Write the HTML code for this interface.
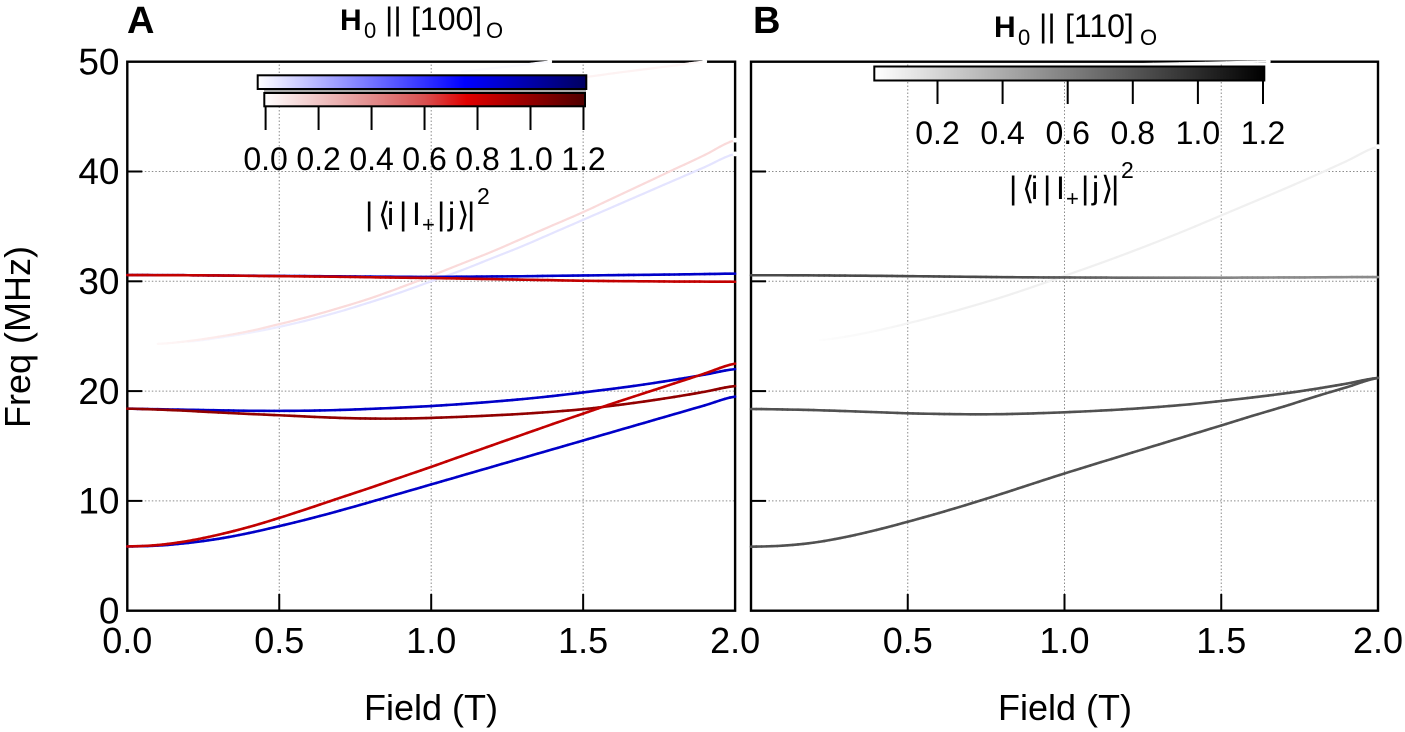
<!DOCTYPE html>
<html lang="en">
<head>
<meta charset="utf-8">
<title>Frequency versus field, panels A and B</title>
<style>
html,body{margin:0;padding:0;background:#fff;width:1405px;height:732px;overflow:hidden}
svg{display:block}
text{font-family:"Liberation Sans",Arial,sans-serif;fill:#000}
</style>
</head>
<body>
<svg id="chart" xmlns="http://www.w3.org/2000/svg" width="1405" height="732" viewBox="0 0 1405 732">
<defs>
<linearGradient id="grad-blue"><stop offset="0" stop-color="#fff"/><stop offset=".63" stop-color="#0000ff"/><stop offset="1" stop-color="#000060"/></linearGradient>
<linearGradient id="grad-red"><stop offset="0" stop-color="#fff"/><stop offset=".33" stop-color="#e28e8e"/><stop offset=".5" stop-color="#d85050"/><stop offset=".63" stop-color="#e00000"/><stop offset="1" stop-color="#500000"/></linearGradient>
<linearGradient id="grad-gray"><stop offset="0" stop-color="#fff"/><stop offset="1" stop-color="#000"/></linearGradient>
</defs>
<g id="layer-grid"></g>
<g id="layer-frame"></g>
<g id="layer-curves"></g>
<g id="layer-bars">
<rect x="264" y="89" width="322" height="4" fill="#a8a8a8"/>
<rect x="257.7" y="75.3" width="328.6" height="13.7" fill="url(#grad-blue)" stroke="#000" stroke-width="2"/>
<rect x="264.3" y="93" width="320.7" height="13.3" fill="url(#grad-red)" stroke="#000" stroke-width="2"/>
<rect x="874.3" y="66.5" width="390" height="14" fill="url(#grad-gray)" stroke="#000" stroke-width="2"/>
</g>
<g id="layer-text">
<text x="127" y="33" font-size="38" font-weight="bold">A</text>
<text x="753" y="33" font-size="38" font-weight="bold">B</text>
<text y="30" font-size="32"><tspan x="340" font-weight="bold" font-size="30">H</tspan><tspan x="364" y="38" font-size="22">0</tspan><tspan x="385" y="30">||</tspan><tspan x="411" y="30">[100]</tspan><tspan x="486" y="38" font-size="22">O</tspan></text>
<text transform="translate(654,7)" y="30" font-size="32"><tspan x="340" font-weight="bold" font-size="30">H</tspan><tspan x="364" y="38" font-size="22">0</tspan><tspan x="385" y="30">||</tspan><tspan x="411" y="30">[110]</tspan><tspan x="486" y="38" font-size="22">O</tspan></text>
<text y="225" font-size="32"><tspan x="365">|</tspan><tspan x="378">⟨</tspan><tspan x="387">i</tspan><tspan x="399">|</tspan><tspan x="412">I</tspan><tspan x="422" y="232" font-size="22">+</tspan><tspan x="437" y="225">|</tspan><tspan x="448">j</tspan><tspan x="457">⟩</tspan><tspan x="467">|</tspan><tspan x="477" y="204" font-size="23">2</tspan></text>
<text transform="translate(644,-26)" y="225" font-size="32"><tspan x="365">|</tspan><tspan x="378">⟨</tspan><tspan x="387">i</tspan><tspan x="399">|</tspan><tspan x="412">I</tspan><tspan x="422" y="232" font-size="22">+</tspan><tspan x="437" y="225">|</tspan><tspan x="448">j</tspan><tspan x="457">⟩</tspan><tspan x="467">|</tspan><tspan x="477" y="204" font-size="23">2</tspan></text>
<text transform="translate(30,337) rotate(-90)" text-anchor="middle" font-size="36">Freq (MHz)</text>
<text x="431" y="720" text-anchor="middle" font-size="36">Field (T)</text>
<text x="1065" y="720" text-anchor="middle" font-size="36">Field (T)</text>
</g>
</svg>
<script>
const yTickValues = [0, 10, 20, 30, 40, 50];
const xTickValues = [0, 0.5, 1, 1.5, 2];
const barTicksA = [0, 0.2, 0.4, 0.6, 0.8, 1.0, 1.2];
const barTicksB = [0.2, 0.4, 0.6, 0.8, 1.0, 1.2];

const fieldsFull = [0,.1,.2,.3,.4,.5,.6,.7,.8,.9,1,1.1,1.2,1.3,1.4,1.5,1.6,1.7,1.8,1.9,2];
const fieldsFaintRedA = [.1,.2,.3,.4,.5,.6,.7,.8,.9,1,1.1,1.2,1.3,1.4,1.5,1.6,1.7,1.8,1.9,2];
const fieldsFaintBlueA = [.2,.3,.4,.5,.6,.7,.8,.9,1,1.1,1.2,1.3,1.4,1.5,1.6,1.7,1.8,1.9,2];
const fieldsHighRedA = [1.5,1.6,1.7,1.8,1.9];
const fieldsHighBlueA = [1.1,1.2,1.3,1.39];
const fieldsFaintB = [.22,.3,.4,.5,.6,.7,.8,.9,1,1.1,1.2,1.3,1.4,1.5,1.6,1.7,1.8,1.9,2];
const fieldsHighB = [.9,1.2,1.45,1.65];

const lowerBlueA = [5.85,5.93,6.17,6.55,7.07,7.7,8.38,9.12,9.9,10.7,11.5,12.3,13.1,13.9,14.7,15.5,16.3,17.1,17.9,18.7,19.5];
const lowerRedA = [5.85,5.98,6.35,6.92,7.62,8.45,9.35,10.28,11.2,12.15,13.1,14.08,15.06,16.03,17.0,17.95,18.9,19.8,20.7,21.6,22.5];
const midBlueA = [18.4,18.35,18.3,18.25,18.21,18.2,18.22,18.28,18.38,18.5,18.64,18.82,19.03,19.27,19.55,19.88,20.22,20.6,21.03,21.5,22.0];
const midRedA = [18.4,18.32,18.2,18.05,17.92,17.8,17.67,17.56,17.5,17.5,17.56,17.66,17.78,17.93,18.12,18.35,18.68,19.05,19.47,19.94,20.46];
const topBlueA = [30.57,30.56,30.55,30.53,30.51,30.49,30.47,30.45,30.43,30.41,30.4,30.42,30.44,30.46,30.5,30.53,30.56,30.59,30.62,30.66,30.7];
const topRedA = [30.57,30.56,30.55,30.53,30.5,30.47,30.44,30.41,30.37,30.33,30.3,30.25,30.2,30.15,30.1,30.05,30.02,30.0,29.98,29.97,29.96];
const faintRedA = [24.3,24.55,24.95,25.45,26.1,26.8,27.6,28.45,29.45,30.5,31.6,32.7,33.9,35.1,36.3,37.6,38.9,40.2,41.5,42.85];
const faintBlueA = [24.5,24.85,25.3,25.85,26.5,27.25,28.1,29.0,30.0,31.0,32.1,33.2,34.4,35.6,36.8,38.0,39.2,40.4,41.6];
const highRedA = [48.6,48.95,49.3,49.65,50.0];
const highBlueA = [49.1,49.4,49.7,50.0];

const lowerB = [5.83,5.92,6.2,6.7,7.35,8.1,8.9,9.75,10.65,11.58,12.5,13.38,14.26,15.13,16.0,16.87,17.75,18.6,19.5,20.35,21.2];
const midB = [18.37,18.33,18.27,18.18,18.08,17.98,17.92,17.89,17.9,17.97,18.07,18.2,18.36,18.56,18.8,19.1,19.42,19.78,20.2,20.68,21.2];
const topB = [30.55,30.55,30.54,30.52,30.5,30.47,30.44,30.41,30.38,30.36,30.35,30.34,30.33,30.33,30.33,30.33,30.34,30.35,30.36,30.38,30.39];
const faintB = [24.65,24.95,25.5,26.17,26.9,27.7,28.55,29.5,30.5,31.5,32.55,33.65,34.8,36.0,37.2,38.4,39.65,40.95,42.26];
const highB = [49.6,49.75,49.9,50.0];

const strengthBlueMain = 0.91;
const strengthRedMain = 0.85;
const strengthRedDark = 1.0;
const strengthGrayMain = 0.82;
const strengthTopGray = [.85,.85,.85,.85,.85,.85,.85,.85,.85,.82,.78,.74,.7,.66,.62,.58,.56,.55,.55,.55,.55];
const strengthFaintRed = [0.02,0.04,0.06,0.08,0.1,0.11,0.11,0.11,0.11,0.11,0.11,0.11,0.11,0.11,0.11,0.11,0.11,0.11,0.11,0.11];
const strengthFaintBlue = [0.02,0.03,0.04,0.06,0.07,0.07,0.08,0.08,0.08,0.08,0.08,0.08,0.08,0.08,0.08,0.08,0.08,0.08,0.08];
const strengthHighRed = [0.04,0.04,0.04,0.03,0.02];
const strengthHighBlue = [0.015,0.015,0.015,0.015];
const strengthFaintGray = [0.01,0.02,0.03,0.05,0.06,0.07,0.07,0.07,0.07,0.07,0.07,0.07,0.07,0.07,0.07,0.07,0.07,0.07,0.07];
const strengthHighGray = [0.01,0.01,0.01,0.01];

const NS = 'http://www.w3.org/2000/svg';
const yOf = f => 610.7 - f * 10.98;
const xA = v => 127.3 + v * 303.9;
const xB = v => 751 + v * 313.5;
const barA = v => 265.6 + v * 264.9;
const barB = v => 937.5 + (v - 0.2) * 325.5;

function make(parent, tag, attrs, text) {
  const el = document.createElementNS(NS, tag);
  for (const k in attrs) el.setAttribute(k, attrs[k]);
  if (text !== undefined) el.textContent = text;
  parent.appendChild(el);
  return el;
}
function ramp(stops, t) {
  t = Math.max(0, Math.min(1, t));
  for (let i = 1; i < stops.length; i++) {
    if (t <= stops[i][0]) {
      const a = stops[i - 1], b = stops[i], u = (t - a[0]) / (b[0] - a[0]);
      return 'rgb(' + [1, 2, 3].map(c => Math.round(a[c] + (b[c] - a[c]) * u)).join(',') + ')';
    }
  }
  return '#000';
}
const blueMap = v => ramp([[0,255,255,255],[.63,0,0,255],[1,0,0,96]], v / 1.2);
const redMap = v => ramp([[0,255,255,255],[.63,224,0,0],[1,80,0,0]], v / 1.2);
const grayMap = v => ramp([[0,255,255,255],[1,0,0,0]], v / 1.2);

const gridLayer = document.getElementById('layer-grid');
const frameLayer = document.getElementById('layer-frame');
const curveLayer = document.getElementById('layer-curves');
const barLayer = document.getElementById('layer-bars');
const textLayer = document.getElementById('layer-text');

function drawAxes(xs, left, right, showYLabels, panel) {
  xTickValues.forEach(v => {
    const x = xs(v);
    if (v > 0 && v < 2) {
      const g = make(gridLayer, 'line', {x1: x, x2: x, y1: 61, y2: 611, stroke: '#8c8c8c', 'stroke-width': 1, 'stroke-dasharray': '1.5 2'});
      
      
      const t = make(frameLayer, 'line', {x1: x, x2: x, y1: 594, y2: 611, stroke: '#000', 'stroke-width': 2});
      
      
    }
    if (panel === 'a' || v > 0) {
      const l = make(textLayer, 'text', {x: x, y: 653, 'text-anchor': 'middle', 'font-size': 36}, v.toFixed(1));
      
      
    }
  });
  yTickValues.forEach(v => {
    const y = yOf(v);
    if (v > 0 && v < 50) {
      const g = make(gridLayer, 'line', {x1: left, x2: right, y1: y, y2: y, stroke: '#8c8c8c', 'stroke-width': 1, 'stroke-dasharray': '1.5 2'});
      
      
      const t = make(frameLayer, 'line', {x1: left, x2: left + 15, y1: y, y2: y, stroke: '#000', 'stroke-width': 2});
      
      
    }
    if (showYLabels) {
      const l = make(textLayer, 'text', {x: 119.5, y: y + 12.7, 'text-anchor': 'end', 'font-size': 37}, String(v));
      
      
    }
  });
  const f = make(frameLayer, 'rect', {x: left, y: yOf(50), width: right - left, height: yOf(0) - yOf(50), fill: 'none', stroke: '#000', 'stroke-width': 2.4});
  
  
}

/* Catmull-Rom smoothing between the read values, so curves have no visible corners */
function smooth(values, i, u) {
  const p0 = values[Math.max(0, i - 1)], p1 = values[i], p2 = values[i + 1], p3 = values[Math.min(values.length - 1, i + 2)];
  return 0.5 * (2 * p1 + (p2 - p0) * u + (2 * p0 - 5 * p1 + 4 * p2 - p3) * u * u + (3 * p1 - p0 - 3 * p2 + p3) * u * u * u);
}

function drawSeries(name, xs, fields, freqs, strength, map, faint) {
  const group = make(curveLayer, 'g', {fill: 'none'});
  
  
  const steps = 6;
  for (let i = 0; i < fields.length - 1; i++) {
    const a = Array.isArray(strength) ? strength[i] : strength;
    const b = Array.isArray(strength) ? strength[i + 1] : strength;
    for (let s = 0; s < steps; s++) {
      const u1 = s / steps, u2 = (s + 1) / steps;
      const f1 = fields[i] + (fields[i + 1] - fields[i]) * u1;
      const f2 = fields[i] + (fields[i + 1] - fields[i]) * u2;
      make(group, 'line', {
        x1: xs(f1), y1: yOf(smooth(freqs, i, u1)),
        x2: xs(f2), y2: yOf(smooth(freqs, i, u2)),
        stroke: map(a + (b - a) * u2),
        'stroke-width': faint ? 2.2 : 2.6,
        'stroke-linecap': 'round'
      });
    }
  }
  if (faint) {
    const n = fields.length - 1;
    make(group, 'circle', {cx: xs(fields[n]), cy: yOf(freqs[n]), r: 2.4, fill: '#fff'});
  }
}

function drawBarTicks(ticks, scale, y1, y2, baseline, panel) {
  ticks.forEach(v => {
    const x = scale(v);
    const t = make(barLayer, 'line', {x1: x, x2: x, y1: y1, y2: y2, stroke: '#000', 'stroke-width': 2});
    
    
    const l = make(textLayer, 'text', {x: x, y: baseline, 'text-anchor': 'middle', 'font-size': 32}, v.toFixed(1));
    
    
  });
}

drawAxes(xA, 127.3, 735.1, true, 'a');
drawAxes(xB, 751, 1378, false, 'b');

drawSeries('high-blue-a', xA, fieldsHighBlueA, highBlueA, strengthHighBlue, blueMap, true);
drawSeries('high-red-a', xA, fieldsHighRedA, highRedA, strengthHighRed, redMap, true);
drawSeries('faint-blue-a', xA, fieldsFaintBlueA, faintBlueA, strengthFaintBlue, blueMap, true);
drawSeries('faint-red-a', xA, fieldsFaintRedA, faintRedA, strengthFaintRed, redMap, true);
drawSeries('top-blue-a', xA, fieldsFull, topBlueA, strengthBlueMain, blueMap, false);
drawSeries('top-red-a', xA, fieldsFull, topRedA, strengthRedMain, redMap, false);
drawSeries('mid-blue-a', xA, fieldsFull, midBlueA, strengthBlueMain, blueMap, false);
drawSeries('mid-red-a', xA, fieldsFull, midRedA, strengthRedDark, redMap, false);
drawSeries('lower-blue-a', xA, fieldsFull, lowerBlueA, strengthBlueMain, blueMap, false);
drawSeries('lower-red-a', xA, fieldsFull, lowerRedA, strengthRedMain, redMap, false);

drawSeries('high-gray-b', xB, fieldsHighB, highB, strengthHighGray, grayMap, true);
drawSeries('faint-gray-b', xB, fieldsFaintB, faintB, strengthFaintGray, grayMap, true);
drawSeries('top-gray-b', xB, fieldsFull, topB, strengthTopGray, grayMap, false);
drawSeries('mid-gray-b', xB, fieldsFull, midB, strengthGrayMain, grayMap, false);
drawSeries('lower-gray-b', xB, fieldsFull, lowerB, strengthGrayMain, grayMap, false);

drawBarTicks(barTicksA, barA, 107, 130, 170, 'a');
drawBarTicks(barTicksB, barB, 81, 104, 144, 'b');
</script>
</body>
</html>
